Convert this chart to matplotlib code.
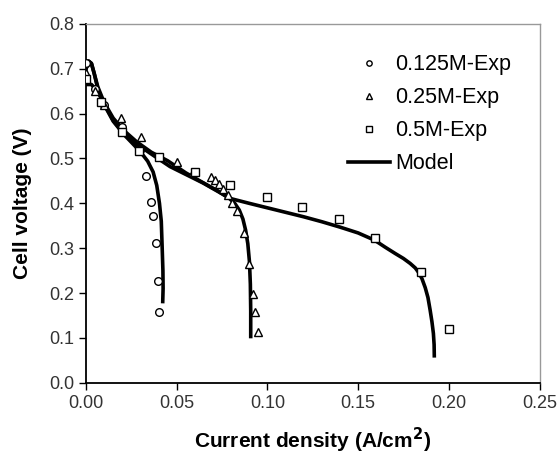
import numpy as np
import matplotlib
matplotlib.use('Agg')
import matplotlib.pyplot as plt

plt.rcParams['font.family'] = ['Liberation Sans', 'DejaVu Sans']

# experimental points
x_125 = [0.0, 0.005, 0.01, 0.02, 0.03, 0.033, 0.0359, 0.0368, 0.0385, 0.0396, 0.0404]
y_125 = [0.712, 0.655, 0.62, 0.57, 0.52, 0.461, 0.403, 0.372, 0.311, 0.227, 0.158]

x_25 = [0.0, 0.005, 0.01, 0.0195, 0.0302, 0.05, 0.059, 0.069, 0.071, 0.0735, 0.0757,
        0.0785, 0.0803, 0.083, 0.0873, 0.09, 0.0923, 0.0932, 0.0947]
y_25 = [0.69, 0.65, 0.62, 0.59, 0.549, 0.493, 0.471, 0.458, 0.452, 0.443, 0.432,
        0.419, 0.40, 0.383, 0.333, 0.264, 0.197, 0.158, 0.112]

x_5 = [0.0, 0.0081, 0.02, 0.0292, 0.04, 0.06, 0.0794, 0.0996, 0.1193, 0.1397,
       0.1594, 0.1846, 0.2002]
y_5 = [0.677, 0.627, 0.56, 0.516, 0.503, 0.47, 0.441, 0.414, 0.392, 0.365,
       0.322, 0.246, 0.12]

# model curves
mx_125 = [0.0, 0.0015, 0.003, 0.0045, 0.0065, 0.01, 0.015, 0.021, 0.026, 0.03, 0.034,
          0.037, 0.039, 0.0405, 0.0415, 0.042, 0.0424, 0.0425, 0.0423]
my_125 = [0.70, 0.717, 0.712, 0.69, 0.655, 0.62, 0.583, 0.553, 0.532, 0.515, 0.494,
          0.47, 0.44, 0.40, 0.36, 0.30, 0.25, 0.21, 0.181]

mx_25 = [0.0, 0.0015, 0.003, 0.0045, 0.0065, 0.01, 0.015, 0.021, 0.028, 0.036, 0.045,
         0.055, 0.065, 0.073, 0.079, 0.082, 0.0845, 0.0865, 0.088, 0.0892, 0.0901,
         0.0906, 0.0908, 0.0908]
my_25 = [0.70, 0.717, 0.712, 0.69, 0.66, 0.625, 0.59, 0.562, 0.537, 0.514, 0.495,
         0.468, 0.445, 0.427, 0.411, 0.40, 0.385, 0.365, 0.34, 0.31, 0.27, 0.22,
         0.16, 0.103]

mx_5 = [0.0, 0.003, 0.006, 0.01, 0.015, 0.021, 0.028, 0.036, 0.0463, 0.0647, 0.0794,
        0.09, 0.1, 0.11, 0.12, 0.13, 0.14, 0.15, 0.159, 0.165, 0.1705, 0.175,
        0.1787, 0.1815, 0.1835, 0.1852, 0.187, 0.1885, 0.1897, 0.1907, 0.1915,
        0.1919, 0.192]
my_5 = [0.665, 0.665, 0.652, 0.622, 0.585, 0.556, 0.532, 0.51, 0.482, 0.445, 0.411,
        0.40, 0.39, 0.38, 0.37, 0.359, 0.347, 0.334, 0.318, 0.302, 0.288, 0.277,
        0.266, 0.256, 0.245, 0.232, 0.212, 0.19, 0.162, 0.136, 0.11, 0.085, 0.06]

fig = plt.figure(figsize=(5.57, 4.55), dpi=100)
ax = fig.add_axes([0.1544, 0.1589, 0.8142, 0.7884])

mk = dict(linestyle='none', markerfacecolor='white', markeredgecolor='black',
          markersize=5.5, markeredgewidth=1.0, zorder=3)
ax.plot(x_125, y_125, marker='o', label='0.125M-Exp', **mk)
ax.plot(x_25, y_25, marker='^', label='0.25M-Exp', **mk)
ax.plot(x_5, y_5, marker='s', label='0.5M-Exp', **mk)

ax.plot(mx_125, my_125, color='black', lw=2.6, label='Model', zorder=2)
ax.plot(mx_25, my_25, color='black', lw=2.6, zorder=2)
ax.plot(mx_5, my_5, color='black', lw=2.6, zorder=2)

ax.set_xlim(0, 0.25)
ax.set_ylim(0, 0.8)
ax.set_xticks(np.arange(0, 0.26, 0.05))
ax.set_yticks(np.arange(0, 0.81, 0.1))
ax.set_xticklabels(['%.2f' % v for v in np.arange(0, 0.26, 0.05)])
ax.set_yticklabels(['%.1f' % v for v in np.arange(0, 0.81, 0.1)])
ax.tick_params(direction='out', length=5, width=1, labelsize=13, colors='black',
               labelcolor='#333333')

for s in ['left', 'bottom']:
    ax.spines[s].set_linewidth(1.3)
    ax.spines[s].set_color('black')
for s in ['top', 'right']:
    ax.spines[s].set_linewidth(1.0)
    ax.spines[s].set_color('#999999')

ax.set_xlabel('Current density (A/cm$^\\mathbf{2}$)', fontsize=15, fontweight='bold', labelpad=10)
ax.set_ylabel('Cell voltage (V)', fontsize=15, fontweight='bold', labelpad=12)

ax.legend(loc='upper left', bbox_to_anchor=(0.577, 0.916), frameon=False,
          fontsize=15.5, handlelength=1.95, handletextpad=0.25, labelspacing=0.56,
          borderpad=0, borderaxespad=0, markerscale=0.7)

plt.savefig('out.png', dpi=100)
